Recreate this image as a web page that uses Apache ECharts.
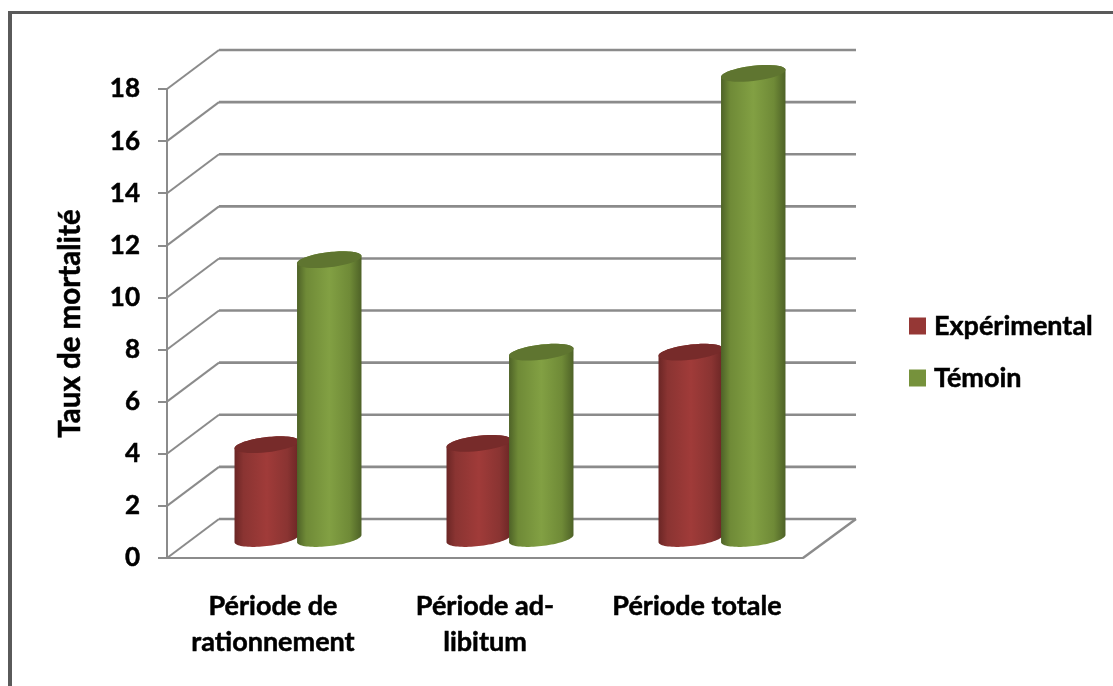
<!DOCTYPE html>
<html>
<head>
<meta charset="utf-8">
<style>html,body{margin:0;padding:0;background:#fff}#chart{width:1113px;height:686px}</style>
<script src="https://cdn.jsdelivr.net/npm/echarts@6/dist/echarts.min.js"></script>
</head>
<body>
<div id="chart"></div>
<script>
// Taux de mortalité par période
const categories = ['Période de\nrationnement', 'Période ad-\nlibitum', 'Période totale'];
const experimental = [3.6, 3.65, 7.15];
const temoin = [10.7, 7.15, 17.85];
const valueTicks = [0, 2, 4, 6, 8, 10, 12, 14, 16, 18];

// Pseudo-3D projection: pixel shift from the front plane to the back wall
const DEPTH_X = 53, DEPTH_Y = -39;
const WALL = '#8b8b8b';
const FONT = 'Lato, "Noto Sans", sans-serif';
// Slight outline that thickens the bold labels
const HEAVY = { textBorderColor: '#000', textBorderWidth: 0.5 };

function wallItem(params, api) {
  const cs = params.coordSys;
  const y = api.coord([0, api.value(1)])[1];
  const left = cs.x, right = cs.x + cs.width;
  const children = [{
    type: 'line',
    shape: { x1: left, y1: y, x2: left + DEPTH_X - 1, y2: y + DEPTH_Y },
    style: { stroke: WALL, lineWidth: 2 }
  }, {
    type: 'line',
    shape: { x1: left + DEPTH_X - 1, y1: y + DEPTH_Y, x2: right + DEPTH_X, y2: y + DEPTH_Y },
    style: { stroke: WALL, lineWidth: 2.6 }
  }];
  if (api.value(1) === 0) {
    children.push({
      type: 'line',
      shape: { x1: right, y1: y, x2: right + DEPTH_X, y2: y + DEPTH_Y },
      style: { stroke: WALL, lineWidth: 2.4 }
    });
  }
  return { type: 'group', children };
}

// Points of a slanted ellipse between two parameter angles
function arc(cx, cy, rx, ry, slant, from, to) {
  const pts = [];
  for (let i = 0; i <= 40; i++) {
    const t = from + (to - from) * i / 40;
    pts.push([cx + rx * Math.cos(t), cy + ry * Math.sin(t) - slant * Math.cos(t)]);
  }
  return pts;
}

function cylinder(side, shades) {
  return function (params, api) {
    const cat = api.value(0);
    const top = api.coord([cat, api.value(1)]);
    const base = api.coord([cat, 0]);
    const band = api.size([1, 0])[0];
    const rx = band * 0.152;
    const ry = 7.6, slant = 3.6;
    const cx = top[0] + DEPTH_X / 2 - 1.5 + side * rx * 0.97;
    const yTop = top[1] + DEPTH_Y / 2;
    const yBase = base[1] + DEPTH_Y / 2;
    const body = arc(cx, yBase, rx, ry, slant, 0, Math.PI)
      .concat(arc(cx, yTop, rx, ry, slant, Math.PI, 2 * Math.PI));
    return {
      type: 'group',
      children: [{
        type: 'polygon',
        shape: { points: body },
        style: {
          fill: {
            type: 'linear', x: 0, y: 0, x2: 1, y2: 0,
            colorStops: [
              { offset: 0, color: shades.edge },
              { offset: 0.14, color: shades.mid },
              { offset: 0.5, color: shades.light },
              { offset: 0.82, color: shades.mid },
              { offset: 1, color: shades.edge }
            ]
          }
        }
      }, {
        type: 'polygon',
        shape: { points: arc(cx, yTop, rx, ry, slant, 0, 2 * Math.PI) },
        style: { fill: shades.cap }
      }]
    };
  };
}

const toPairs = values => values.map((v, i) => [i, v]);

const chart = echarts.init(document.getElementById('chart'), null, { renderer: 'canvas' });
chart.setOption({
  animation: false,
  backgroundColor: '#fff',
  textStyle: { fontFamily: FONT },
  graphic: [
    { type: 'rect', shape: { x: 8, y: 11, width: 1105, height: 3 }, style: { fill: '#5a5a5a' } },
    { type: 'rect', shape: { x: 8, y: 11, width: 4, height: 675 }, style: { fill: '#5a5a5a' } }
  ],
  grid: { left: 167, right: 310, top: 89, bottom: 128 },
  legend: {
    left: 909, top: 310, padding: 0,
    orient: 'vertical',
    itemWidth: 17, itemHeight: 17, itemGap: 20,
    icon: 'rect',
    data: ['Expérimental', 'Témoin'],
    selectedMode: false,
    textStyle: { color: '#000', fontSize: 27, lineHeight: 32, fontWeight: 'bold', fontFamily: FONT, padding: [0, 0, 0, 3], ...HEAVY }
  },
  xAxis: {
    type: 'category',
    data: categories,
    axisLine: { lineStyle: { color: WALL, width: 2 } },
    axisTick: { length: 10, lineStyle: { color: WALL, width: 2 } },
    axisLabel: { color: '#000', fontSize: 27, fontWeight: 'bold', fontFamily: FONT, lineHeight: 36, margin: 30, interval: 0, ...HEAVY }
  },
  yAxis: {
    type: 'value',
    min: 0, max: 18, interval: 2,
    name: 'Taux de mortalité',
    nameLocation: 'middle',
    nameGap: 82,
    nameTextStyle: { color: '#000', fontSize: 29.5, fontWeight: 'bold', fontFamily: FONT, ...HEAVY },
    splitLine: { show: false },
    axisLine: { show: true, lineStyle: { color: WALL, width: 2 } },
    axisTick: { show: true, length: 9, lineStyle: { color: WALL, width: 2 } },
    axisLabel: { color: '#000', fontSize: 26, fontWeight: 'bold', fontFamily: FONT, margin: 27, ...HEAVY }
  },
  series: [{
    name: 'Parois',
    type: 'custom',
    z: 1,
    silent: true,
    renderItem: wallItem,
    data: valueTicks.map(v => [0, v])
  }, {
    name: 'Expérimental',
    type: 'custom',
    z: 2,
    itemStyle: { color: '#953735' },
    renderItem: cylinder(-1, { edge: '#6b2625', mid: '#8a3432', light: '#a03b39', cap: '#772b2a' }),
    data: toPairs(experimental)
  }, {
    name: 'Témoin',
    type: 'custom',
    z: 3,
    itemStyle: { color: '#76923c' },
    renderItem: cylinder(1, { edge: '#4e6227', mid: '#6f8a37', light: '#82a043', cap: '#5f7530' }),
    data: toPairs(temoin)
  }]
});
</script>
</body>
</html>
